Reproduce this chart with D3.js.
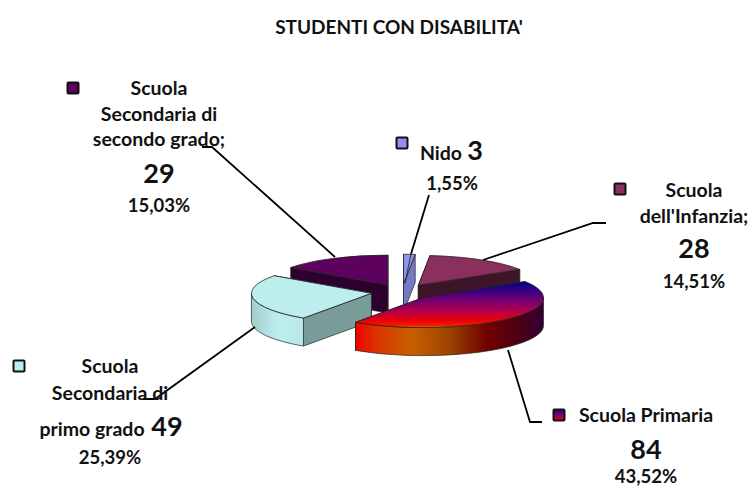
<!DOCTYPE html>
<html>
<head>
<meta charset="utf-8">
<script src="https://cdn.jsdelivr.net/npm/d3@7"></script>
<style>
  html, body { margin: 0; padding: 0; background: #fff; }
  svg { display: block; }
  text { font-family: Lato, "Open Sans", sans-serif; font-weight: 700; fill: #111; text-anchor: middle; }
</style>
</head>
<body>
<div id="chart"></div>
<script>
// Data
const categories = ["Nido", "Scuola dell'Infanzia", "Scuola Primaria", "Scuola Secondaria di primo grado", "Scuola Secondaria di secondo grado"];
const values = [3, 28, 84, 49, 29];
const percents = ["1,55%", "14,51%", "43,52%", "25,39%", "15,03%"];

// Styles, one per slice
const topColors = ["#9090ee", "#8b2f5c", "url(#primariaTop)", "#bdeeee", "#5e005e"];
const wallColors = ["#7878c8", "#3e1428", "url(#primariaWall)", "#7a9c98", "#2e0030"];
const rimColors = ["#7878c8", "#3e1428", "url(#primariaWall)", "url(#tealWall)", "#2e0030"];
const keyColors = ["#9090ee", "#8b2f5c", "url(#primariaKey)", "#bdeeee", "#5e005e"];

const width = 753, height = 488;
const cx = 402, cy = 292, rx = 120, ry = 30, depth = 28, explode = 31;

const svg = d3.select("#chart").append("svg")
    .attr("width", width)
    .attr("height", height);

// Gradients
const defs = svg.append("defs");
function gradient(id, horizontal, stops) {
    const g = defs.append("linearGradient").attr("id", id)
        .attr("x1", 0).attr("y1", 0)
        .attr("x2", horizontal ? 1 : 0).attr("y2", horizontal ? 0 : 1);
    stops.forEach(s => g.append("stop").attr("offset", s[0]).attr("stop-color", s[1]));
}
gradient("primariaTop", false, [[0, "#00008a"], [0.35, "#640078"], [0.65, "#b4004a"], [0.85, "#ee0008"], [0.96, "#f02000"], [1, "#ff8000"]]);
gradient("primariaWall", true, [[0, "#f00000"], [0.1, "#dc3000"], [0.3, "#c86000"], [0.5, "#9c4400"], [0.7, "#700000"], [0.85, "#500010"], [1, "#300034"]]);
gradient("tealWall", true, [[0, "#a4cccc"], [0.5, "#bdeeee"], [1, "#b8e8e8"]]);
gradient("primariaKey", false, [[0, "#1c0090"], [0.5, "#800070"], [1, "#f00000"]]);

// Title
svg.append("text")
    .attr("x", 399)
    .attr("y", 34)
    .style("font-size", "19px")
    .text("STUDENTI CON DISABILITA'");

// Pie
const pie = d3.pie().sort(null).value(d => d);
const arcs = pie(values);
const arcPath = d3.arc().innerRadius(0).outerRadius(rx);
const line = d3.line();

// Projected point on the ellipse, angle clockwise from the top
const rim = (a, ox, oy, dz) => [ox + rx * Math.sin(a), oy - ry * Math.cos(a) + dz];

// Painter's order, back to front
const drawOrder = [4, 0, 1, 3, 2];
const pieG = svg.append("g");

drawOrder.forEach(i => {
    const d = arcs[i];
    const mid = (d.startAngle + d.endAngle) / 2;
    const ox = cx + explode * Math.sin(mid);
    const oy = cy - explode * (ry / rx) * Math.cos(mid);
    const stroke = "#222";

    // Radial walls, the one further back first
    [d.startAngle, d.endAngle]
        .sort((a, b) => Math.cos(b) - Math.cos(a))
        .forEach(a => {
            const p = rim(a, ox, oy, 0);
            pieG.append("path")
                .attr("d", line([[ox, oy], p, [p[0], p[1] + depth], [ox, oy + depth]]) + "Z")
                .attr("fill", wallColors[i])
                .attr("stroke", stroke)
                .attr("stroke-width", 0.7);
        });

    // Outer wall, front half only
    const a0 = Math.max(d.startAngle, Math.PI / 2);
    const a1 = Math.min(d.endAngle, Math.PI * 1.5);
    if (a1 > a0) {
        const steps = d3.range(0, 41).map(k => a0 + (a1 - a0) * k / 40);
        const pts = steps.map(a => rim(a, ox, oy, 0))
            .concat(steps.slice().reverse().map(a => rim(a, ox, oy, depth)));
        pieG.append("path")
            .attr("d", line(pts) + "Z")
            .attr("fill", rimColors[i])
            .attr("stroke", stroke)
            .attr("stroke-width", 0.7);
    }

    // Top face
    pieG.append("path")
        .attr("d", arcPath(d))
        .attr("transform", `translate(${ox},${oy}) scale(1,${ry / rx})`)
        .attr("fill", topColors[i])
        .attr("stroke", stroke)
        .attr("stroke-width", 0.8)
        .attr("vector-effect", "non-scaling-stroke");
});

// Leader lines
const leaders = [
    [[429, 195], [411, 254]],
    [[606, 223], [593, 223], [483, 260]],
    [[508, 350], [530, 422], [542, 422]],
    [[255, 327], [155, 399], [143, 399]],
    [[202, 147], [212, 147], [335, 257]]
];
leaders.forEach(pts => {
    svg.append("path")
        .attr("d", line(pts))
        .attr("fill", "none")
        .attr("stroke", "#000")
        .attr("stroke-width", 1.8);
});
// thin tail of the Nido leader over its slice
svg.append("path")
    .attr("d", line([[411, 254], [405, 283]]))
    .attr("fill", "none")
    .attr("stroke", "#222")
    .attr("stroke-width", 0.8);

// Legend keys
const keyPos = [[402, 143], [620, 189], [559, 415], [19, 366], [73, 88]];
keyPos.forEach((p, i) => {
    svg.append("rect")
        .attr("x", p[0] - 5.5)
        .attr("y", p[1] - 5.5)
        .attr("width", 11)
        .attr("height", 11)
        .attr("rx", 1)
        .attr("fill", keyColors[i])
        .attr("stroke", "#111")
        .attr("stroke-width", 2);
});

// Labels
const small = 19.5, big = 27, pct = 18.5;
const labelLines = [
    [["Scuola", 159, 95, small], ["Secondaria di", 159, 121, small], ["secondo grado;", 159, 146, small],
     [values[4], 159, 183, big], [percents[4], 159, 212, pct]],
    [["Nido", 441, 160, small], [values[0], 475, 160, big], [percents[0], 452, 190, pct]],
    [["Scuola", 694, 197, small], ["dell'Infanzia;", 694, 223, small],
     [values[1], 694, 258, big], [percents[1], 694, 288, pct]],
    [["Scuola Primaria", 646, 422, small], [values[2], 646, 459, big], [percents[2], 646, 483, pct]],
    [["Scuola", 110, 373, small], ["Secondaria di", 110, 400, small], ["primo grado", 92, 436, small],
     [values[3], 167, 436, big], [percents[3], 110, 464, pct]]
];
labelLines.forEach(lines => {
    lines.forEach(l => {
        svg.append("text")
            .attr("x", l[1])
            .attr("y", l[2])
            .style("font-size", l[3] + "px")
            .text(l[0]);
    });
});
</script>
</body>
</html>
